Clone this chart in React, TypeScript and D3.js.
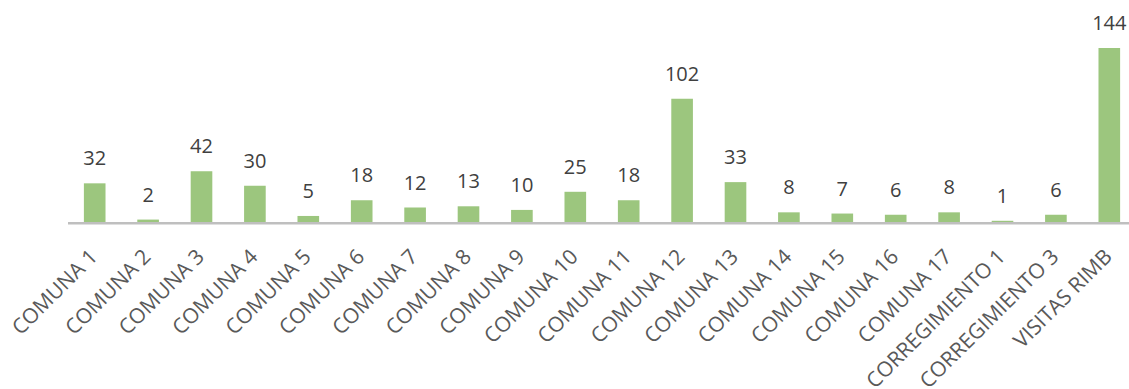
import React from "react";
import * as d3 from "d3";

const categories = [
  "COMUNA 1", "COMUNA 2", "COMUNA 3", "COMUNA 4", "COMUNA 5", "COMUNA 6",
  "COMUNA 7", "COMUNA 8", "COMUNA 9", "COMUNA 10", "COMUNA 11", "COMUNA 12",
  "COMUNA 13", "COMUNA 14", "COMUNA 15", "COMUNA 16", "COMUNA 17",
  "CORREGIMIENTO 1", "CORREGIMIENTO 3", "VISITAS RIMB",
];
const values = [32, 2, 42, 30, 5, 18, 12, 13, 10, 25, 18, 102, 33, 8, 7, 6, 8, 1, 6, 144];

const W = 1129;
const H = 389;
const baseY = 222;
const font = "'Open Sans', 'Liberation Sans', sans-serif";

export default function App() {
  const x = d3.scaleBand<string>().domain(categories).range([68, 1136]).paddingInner(0.595).paddingOuter(0.2975);
  const y = d3.scaleLinear().domain([0, 144]).range([baseY, 48]);
  return (
    <svg width={W} height={H} style={{ position: "absolute", left: 0, top: 0 }}>
      <rect width={W} height={H} fill="#fff" />
      {categories.map((c, i) => {
        const bx = x(c)!;
        const cx = bx + x.bandwidth() / 2;
        return (
          <g key={c}>
            <rect x={bx} y={y(values[i])} width={x.bandwidth()} height={baseY - y(values[i])} fill="#9CC67E" />
            <text x={cx} y={y(values[i]) - 18} textAnchor="middle" fontFamily={font} fontSize={20} fill="#404040">
              {values[i]}
            </text>
            <text
              transform={`translate(${cx + 4},${258}) rotate(-45)`}
              textAnchor="end"
              fontFamily={font}
              fontSize={21}
              fill="#595959"
            >
              {c}
            </text>
          </g>
        );
      })}
      <line x1={68} x2={1136} y1={baseY + 1.2} y2={baseY + 1.2} stroke="#BFBFBF" strokeWidth={2.4} />
    </svg>
  );
}
